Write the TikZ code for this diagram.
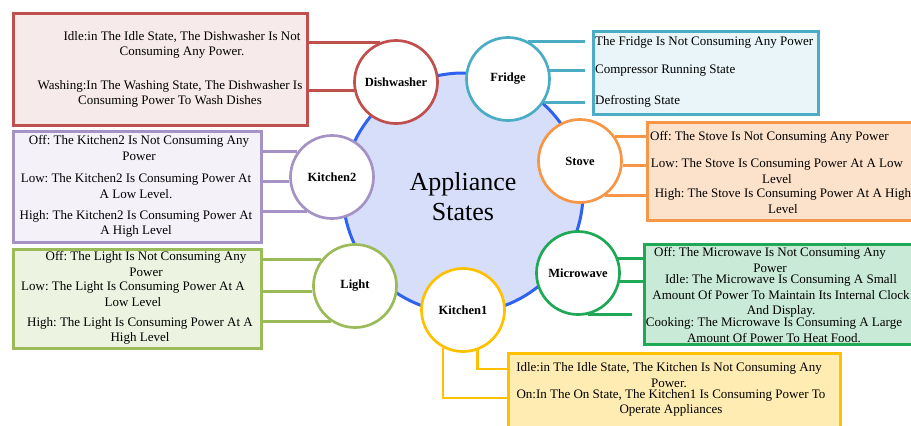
\documentclass[tikz,border=0pt]{standalone}
\usepackage{fontspec}
\setmainfont{Liberation Serif}
\frenchspacing
\definecolor{dwred}{HTML}{C0504D}
\definecolor{frblue}{HTML}{4BACC6}
\definecolor{storange}{HTML}{F79646}
\definecolor{mwgreen}{HTML}{1FA855}
\definecolor{kaorange}{HTML}{FFC000}
\definecolor{ltgreen}{HTML}{9BBB59}
\definecolor{kbpurple}{HTML}{A593C6}
\definecolor{hubblue}{HTML}{2F62F0}
\definecolor{hubfill}{HTML}{D6DEFA}
\begin{document}
\begin{tikzpicture}[x=1pt,y=-1pt,
        appl/.style={circle,draw,line width=2.7pt,fill=white,minimum size=83pt,inner sep=0pt,font=\fontsize{12.5}{14}\selectfont\bfseries},
        statebox/.style={rectangle,draw,line width=2.5pt,anchor=north west,inner sep=0pt},
        state/.style={inner sep=0pt,align=center,font=\fontsize{13}{15.5}\selectfont},
        link/.style={line width=2.7pt}]
    \clip (0,0) rectangle (911,426);
    \node[circle,draw=hubblue,fill=hubfill,line width=3pt,minimum size=240pt,inner sep=0pt] (hub) at (463,193) {};
    \node[align=center,font=\fontsize{26}{30}\selectfont] (title) at (463,197) {Appliance\\States};
    % appliances round the hub
    \node[appl,draw=dwred] (dw) at (396,82) {Dishwasher};
    \node[appl,draw=frblue] (fr) at (508,79) {Fridge};
    \node[appl,draw=storange] (st) at (580,161) {Stove};
    \node[appl,draw=mwgreen] (mw) at (578,273) {Microwave};
    \node[appl,draw=kaorange] (k1) at (463,310) {Kitchen1};
    \node[appl,draw=ltgreen] (lt) at (355,286) {Light};
    \node[appl,draw=kbpurple] (k2) at (332,177) {Kitchen2};
    % state boxes
    \node[statebox,draw=dwred,fill=dwred!12,minimum width=294pt,minimum height=112pt] (dwb) at (12,12) {};
    \node[statebox,draw=frblue,fill=frblue!12,minimum width=225pt,minimum height=83pt] (frb) at (592,30) {};
    \node[statebox,draw=kbpurple,fill=kbpurple!12,minimum width=248pt,minimum height=111pt] (k2b) at (12,130) {};
    \node[statebox,draw=ltgreen,fill=ltgreen!18,minimum width=248pt,minimum height=99pt] (ltb) at (12,248) {};
    \node[statebox,draw=storange,fill=storange!28,minimum width=272pt,minimum height=98pt] (stb) at (646,121) {};
    \node[statebox,draw=mwgreen,fill=mwgreen!24,minimum width=275pt,minimum height=100pt] (mwb) at (643,243) {};
    \node[statebox,draw=kaorange,fill=kaorange!30,minimum width=332pt,minimum height=90pt] (k1b) at (507,352) {};
    % state texts
    \node[state] (dw1) at (182,45) {Idle:in The Idle State, The Dishwasher Is Not\\Consuming Any Power.};
    \node[state] (dw2) at (170,94) {Washing:In The Washing State, The Dishwasher Is\\Consuming Power To Wash Dishes};
    \node[state,anchor=west] (fr1) at (595,42) {The Fridge Is Not Consuming Any Power};
    \node[state,anchor=west] (fr2) at (595,71) {Compressor Running State};
    \node[state,anchor=west] (fr3) at (595,101) {Defrosting State};
    \node[state] (k2a) at (139,148) {Off: The Kitchen2 Is Not Consuming Any\\Power};
    \node[state] (k2c) at (136,186) {Low: The Kitchen2 Is Consuming Power At\\A Low Level.};
    \node[state] (k2d) at (136,224) {High: The Kitchen2 Is Consuming Power At\\A High Level};
    \node[state] (lt1) at (146,264) {Off: The Light Is Not Consuming Any\\Power};
    \node[state] (lt2) at (133,294) {Low: The Light Is Consuming Power At A\\Low Level};
    \node[state] (lt3) at (140,331) {High: The Light Is Consuming Power At A\\High Level};
    \node[state,anchor=west] (st1) at (650,137) {Off: The Stove Is Not Consuming Any Power};
    \node[state] (st2) at (777,171) {Low: The Stove Is Consuming Power At A Low\\Level};
    \node[state] (st3) at (783,201) {High: The Stove Is Consuming Power At A High\\Level};
    \node[state] (mw1) at (770,260) {Off: The Microwave Is Not Consuming Any\\Power};
    \node[state] (mw2) at (781,296) {Idle: The Microwave Is Consuming A Small\\Amount Of Power To Maintain Its Internal Clock\\And Display.};
    \node[state] (mw3) at (774,330) {Cooking: The Microwave Is Consuming A Large\\Amount Of Power To Heat Food.};
    \node[state] (k1a) at (669,375) {Idle:in The Idle State, The Kitchen Is Not Consuming Any\\Power.};
    \node[state] (k1c) at (671,403) {On:In The On State, The Kitchen1 Is Consuming Power To\\Operate Appliances};
    % connectors
    \draw[link,dwred] (dw.112) -- (dw.112 -| dwb.east);
    \draw[link,dwred] (dw.191) -- (dw.191 -| dwb.east);
    \draw[link,frblue,shorten >=7pt] (fr.62) -- (fr.62 -| frb.west);
    \draw[link,frblue,shorten >=7pt] (fr.11) -- (fr.11 -| frb.west);
    \draw[link,frblue,shorten >=7pt] (fr.-33) -- (fr.-33 -| frb.west);
    \draw[link,kbpurple] (k2.144) -- (k2.144 -| k2b.east);
    \draw[link,kbpurple] (k2.186) -- (k2.186 -| k2b.east);
    \draw[link,kbpurple] (k2.234) -- (k2.234 -| k2b.east);
    \draw[link,ltgreen] (lt.142) -- (lt.142 -| ltb.east);
    \draw[link,ltgreen] (lt.187) -- (lt.187 -| ltb.east);
    \draw[link,ltgreen] (lt.236) -- (lt.236 -| ltb.east);
    \draw[link,storange] (st.35) -- (st.35 -| stb.west);
    \draw[link,storange] (st.-6) -- (st.-6 -| stb.west);
    \draw[link,storange] (st.-54) -- (st.-54 -| stb.west);
    \draw[link,mwgreen] (mw.20) -- (mw.20 -| mwb.west);
    \draw[link,mwgreen] (mw.-11) -- (mw.-11 -| mwb.west);
    \draw[link,mwgreen,shorten >=11pt] (mw.-77) -- (mw.-77 -| mwb.west);
    \draw[link,kaorange] (k1.-70) |- ([yshift=6pt]k1a.west -| k1b.west);
    \draw[link,kaorange] (k1.-118) |- ([yshift=5pt]k1c.west -| k1b.west);
\end{tikzpicture}
\end{document}
